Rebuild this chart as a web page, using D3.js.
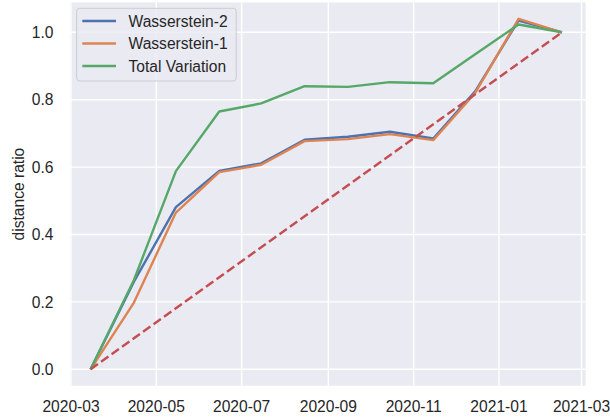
<!DOCTYPE html>
<html>
<head>
<meta charset="utf-8">
<script src="https://cdn.jsdelivr.net/npm/d3@7"></script>
<style>
  body { margin: 0; background: #fff; }
  text { font-family: "Liberation Sans", Arial, sans-serif; fill: #262626; }
</style>
</head>
<body>
<svg id="chart" width="610" height="419"></svg>
<script>
const dates = ['2020-03-15', '2020-04-15', '2020-05-15', '2020-06-15', '2020-07-15', '2020-08-15',
  '2020-09-15', '2020-10-15', '2020-11-15', '2020-12-15', '2021-01-15', '2021-02-15']
const wasserstein2 = [0, 0.26, 0.481, 0.589, 0.611, 0.681, 0.690, 0.705, 0.685, 0.825, 1.035, 1.0]
const wasserstein1 = [0, 0.198, 0.465, 0.585, 0.607, 0.677, 0.683, 0.698, 0.680, 0.82, 1.04, 1.0]
const totalVariation = [0, 0.265, 0.588, 0.765, 0.789, 0.840, 0.838, 0.852, 0.849, 0.935, 1.023, 1.0]
const reference = [0, 1]
const seriesNames = ['Wasserstein-2', 'Wasserstein-1', 'Total Variation']
const yTicks = [0, 0.2, 0.4, 0.6, 0.8, 1.0]
const xTicks = ['2020-03-01', '2020-05-01', '2020-07-01', '2020-09-01', '2020-11-01', '2021-01-01', '2021-03-01']

const parse = d3.utcParse('%Y-%m-%d')
const colors = ['#4c72b0', '#dd8452', '#55a868']
const refColor = '#c44e52'
const fontSize = '15.6px'

const plot = { left: 70, right: 585.7, top: 2.5, bottom: 385.7 }

const x = d3.scaleUtc()
  .domain([parse('2020-03-01'), parse('2021-03-01')])
  .range([71, 581.5])
const y = d3.scaleLinear()
  .domain([0, 1])
  .range([369.3, 32.3])

const svg = d3.select('#chart')

svg.append('defs').append('clipPath').attr('id', 'clip')
  .append('rect')
  .attr('x', plot.left).attr('y', plot.top)
  .attr('width', plot.right - plot.left).attr('height', plot.bottom - plot.top)

svg.append('rect')
  .attr('x', plot.left).attr('y', plot.top)
  .attr('width', plot.right - plot.left).attr('height', plot.bottom - plot.top)
  .attr('fill', '#eaeaf2')

// grid
const grid = svg.append('g').attr('stroke', '#fff').attr('stroke-width', 1.4)
grid.selectAll('.gy').data(yTicks).enter().append('line')
  .attr('x1', plot.left).attr('x2', plot.right)
  .attr('y1', (d) => y(d)).attr('y2', (d) => y(d))
grid.selectAll('.gx').data(xTicks).enter().append('line')
  .attr('y1', plot.top).attr('y2', plot.bottom)
  .attr('x1', (d) => x(parse(d))).attr('x2', (d) => x(parse(d)))

// tick labels
svg.append('g').selectAll('text').data(yTicks).enter().append('text')
  .attr('x', 53.5).attr('y', (d) => y(d))
  .attr('dy', '0.36em')
  .attr('text-anchor', 'end')
  .style('font-size', fontSize)
  .text((d) => d.toFixed(1))

svg.append('g').selectAll('text').data(xTicks).enter().append('text')
  .attr('x', (d) => x(parse(d))).attr('y', 412)
  .attr('text-anchor', 'middle')
  .style('font-size', fontSize)
  .text((d) => d.slice(0, 7))

svg.append('text')
  .attr('transform', `translate(24, ${(plot.top + plot.bottom) / 2}) rotate(-90)`)
  .attr('text-anchor', 'middle')
  .style('font-size', fontSize)
  .text('distance ratio')

// lines
const line = d3.line()
  .x((d) => x(d[0]))
  .y((d) => y(d[1]))

const marks = svg.append('g').attr('clip-path', 'url(#clip)')
const series = [wasserstein2, wasserstein1, totalVariation]
series.forEach((values, i) => {
  marks.append('path')
    .datum(values.map((v, j) => [parse(dates[j]), v]))
    .attr('d', line)
    .attr('fill', 'none')
    .attr('stroke', colors[i])
    .attr('stroke-width', 2.4)
    .attr('stroke-linejoin', 'round')
})

marks.append('path')
  .datum([[parse(dates[0]), reference[0]], [parse(dates[dates.length - 1]), reference[1]]])
  .attr('d', line)
  .attr('fill', 'none')
  .attr('stroke', refColor)
  .attr('stroke-width', 2.4)
  .attr('stroke-dasharray', '9,3.9')

// legend
const legend = svg.append('g')
legend.append('rect')
  .attr('x', 76.7).attr('y', 8.3)
  .attr('width', 159.5).attr('height', 72.7)
  .attr('rx', 3)
  .attr('fill', '#eaeaf2').attr('fill-opacity', 0.8)
  .attr('stroke', '#cccccc').attr('stroke-width', 1)

seriesNames.forEach((name, i) => {
  const ry = 21 + i * 22.5
  legend.append('line')
    .attr('x1', 82.3).attr('x2', 116)
    .attr('y1', ry).attr('y2', ry)
    .attr('stroke', colors[i]).attr('stroke-width', 2.4)
  legend.append('text')
    .attr('x', 128.5).attr('y', ry)
    .attr('dy', '0.36em')
    .style('font-size', fontSize)
    .text(name)
})
</script>
</body>
</html>
